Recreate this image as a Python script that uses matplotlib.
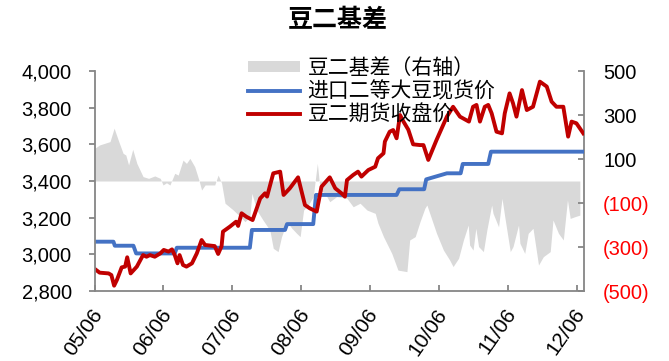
import matplotlib
matplotlib.use('Agg')
import matplotlib.pyplot as plt
from matplotlib.patches import Patch
from matplotlib.lines import Line2D
from matplotlib.transforms import ScaledTranslation

plt.rcParams['font.family'] = ['Liberation Sans', 'Noto Sans CJK SC']

# time as decimal years (June of each year = year + 5/12)
fut_t = [2005.42, 2005.49, 2005.62, 2005.66, 2005.70, 2005.74, 2005.81, 2005.86, 2005.89, 2005.94,
         2006.03, 2006.12, 2006.17, 2006.22, 2006.29, 2006.37, 2006.42, 2006.49, 2006.54, 2006.58,
         2006.62, 2006.65, 2006.70, 2006.75, 2006.83, 2006.90, 2006.97, 2007.02, 2007.16, 2007.21,
         2007.26, 2007.28, 2007.38, 2007.47, 2007.50, 2007.55, 2007.62, 2007.71, 2007.77, 2007.82,
         2007.89, 2007.92, 2008.01, 2008.11, 2008.16, 2008.25, 2008.37, 2008.47, 2008.54, 2008.64,
         2008.71, 2008.83, 2008.91, 2009.00, 2009.05, 2009.08, 2009.17, 2009.24, 2009.29, 2009.39,
         2009.49, 2009.53, 2009.61, 2009.63, 2009.70, 2009.75, 2009.80, 2009.85, 2009.90, 2009.97,
         2010.04, 2010.14, 2010.19, 2010.26, 2010.38, 2010.53, 2010.62, 2010.72, 2010.85, 2010.91,
         2010.96, 2011.01, 2011.08, 2011.13, 2011.18, 2011.25, 2011.33, 2011.37, 2011.44, 2011.49,
         2011.54, 2011.62, 2011.69, 2011.78, 2011.88, 2011.98, 2012.05, 2012.12, 2012.22, 2012.29,
         2012.34, 2012.41, 2012.51]
fut_price = [2920, 2900, 2896, 2887, 2829, 2860, 2929, 2933, 2984, 2896,
             2933, 2996, 2987, 2996, 2987, 3005, 3024, 3015, 3027, 2996,
             2951, 2996, 2942, 2933, 2951, 3005, 3078, 3051, 3045, 3002,
             3045, 3124, 3151, 3178, 3155, 3224, 3205, 3187, 3251, 3305,
             3333, 3315, 3442, 3451, 3324, 3360, 3420, 3269, 3251, 3233,
             3369, 3420, 3360, 3333, 3315, 3405, 3433, 3451, 3424, 3460,
             3478, 3524, 3551, 3615, 3669, 3678, 3633, 3760, 3724, 3680,
             3600, 3596, 3596, 3515, 3624, 3751, 3805, 3751, 3724, 3805,
             3815, 3724, 3805, 3815, 3769, 3669, 3660, 3769, 3878, 3824,
             3751, 3896, 3787, 3805, 3942, 3915, 3833, 3805, 3805, 3642,
             3724, 3715, 3660]

spot_t = [2005.42, 2005.69, 2005.71, 2005.98, 2006.02, 2006.58, 2006.61, 2007.67, 2007.70, 2008.18,
          2008.21, 2008.59, 2008.63, 2009.80, 2009.84, 2010.20, 2010.23, 2010.53, 2010.73, 2010.76,
          2011.13, 2011.17, 2012.51]
spot_price = [3069, 3069, 3047, 3047, 3005, 3005, 3036, 3036, 3133, 3133,
              3165, 3165, 3324, 3324, 3355, 3355, 3409, 3442, 3442, 3493,
              3493, 3560, 3560]

basis_t = [2005.42, 2005.49, 2005.64, 2005.70, 2005.76, 2005.83, 2005.87, 2005.91, 2005.97, 2006.03,
           2006.12, 2006.20, 2006.29, 2006.37, 2006.41, 2006.46, 2006.51, 2006.58, 2006.63, 2006.70,
           2006.75, 2006.80, 2006.87, 2006.93, 2006.97, 2007.02, 2007.16, 2007.21, 2007.26, 2007.31,
           2007.43, 2007.53, 2007.60, 2007.67, 2007.70, 2007.77, 2007.86, 2007.96, 2008.01, 2008.08,
           2008.13, 2008.21, 2008.28, 2008.35, 2008.40, 2008.45, 2008.52, 2008.59, 2008.65, 2008.69,
           2008.76, 2008.83, 2008.93, 2009.08, 2009.17, 2009.27, 2009.37, 2009.49, 2009.53, 2009.61,
           2009.73, 2009.82, 2009.95, 2009.99, 2010.07, 2010.14, 2010.21, 2010.24, 2010.38, 2010.48,
           2010.57, 2010.62, 2010.70, 2010.77, 2010.84, 2010.86, 2010.91, 2010.95, 2010.99, 2011.06,
           2011.11, 2011.18, 2011.20, 2011.28, 2011.33, 2011.37, 2011.45, 2011.49, 2011.57, 2011.59,
           2011.66, 2011.71, 2011.78, 2011.86, 2011.93, 2012.03, 2012.07, 2012.15, 2012.22, 2012.28,
           2012.32, 2012.39, 2012.46]
basis = [149, 164, 179, 240, 186, 126, 118, 73, 144, 80,
         20, 12, 23, 12, -18, -8, -18, 35, 27, 95,
         80, 103, 65, 5, -41, -18, -18, 27, -10, -101,
         -132, -162, -185, -162, -56, -132, -177, -223, -306, -321,
         -253, -185, -215, -238, -253, -132, -109, -71, 80, -41,
         -56, -94, -71, -79, -117, -101, -132, -147, -192, -253,
         -329, -405, -412, -268, -253, -185, -124, -109, -238, -314,
         -359, -389, -351, -268, -200, -291, -314, -215, -298, -321,
         -223, -109, -147, -208, -79, -162, -321, -298, -200, -283,
         -329, -238, -215, -382, -344, -321, -177, -238, -268, -86,
         -170, -162, -155]

x_ticks = [2005 + 5 / 12 + k for k in range(8)]
x_labels = ['05/06', '06/06', '07/06', '08/06', '09/06', '10/06', '11/06', '12/06']
left_ticks = [2800, 3000, 3200, 3400, 3600, 3800, 4000]
right_ticks = [-500, -300, -100, 100, 300, 500]

GREY = '#D9D9D9'
BLUE = '#4472C4'
RED = '#C00000'
SPINE = '#868686'
LW = 2.8

fig = plt.figure(figsize=(6.69, 3.61), dpi=100)
ax = fig.add_axes([0.1414, 0.1939, 0.7309, 0.6094])
ax2 = ax.twinx()

# basis on the right axis, behind the price lines
ax2.fill_between(basis_t, 0, basis, color=GREY, linewidth=0)
ax.set_zorder(ax2.get_zorder() + 1)
ax.patch.set_visible(False)

ax.plot(spot_t, spot_price, color=BLUE, linewidth=LW)
ax.plot(fut_t, fut_price, color=RED, linewidth=LW)

ax.set_xlim(2005 + 5 / 12, 2012.514)
ax.set_ylim(2800, 4000)
ax2.set_ylim(-500, 500)

ax.set_yticks(left_ticks)
ax.set_yticklabels([f'{v:,}' for v in left_ticks])
ax2.set_yticks(right_ticks)
ax2.set_yticklabels([f'({-v})' if v < 0 else str(v) for v in right_ticks])
for lab, v in zip(ax2.get_yticklabels(), right_ticks):
    lab.set_color('#FF0000' if v < 0 else 'black')

ax.set_xticks(x_ticks)
ax.set_xticklabels(x_labels)

for a in (ax, ax2):
    a.spines['top'].set_visible(False)
    for s in ('left', 'right', 'bottom'):
        a.spines[s].set_color(SPINE)
        a.spines[s].set_linewidth(1.3)
ax.spines['right'].set_visible(False)
ax2.spines['left'].set_visible(False)
ax2.spines['bottom'].set_visible(False)

ax.tick_params(axis='y', direction='out', length=4.5, width=1.3, color=SPINE,
               labelsize=14.5, pad=12)
ax.tick_params(axis='x', direction='in', length=4.5, width=1.3, color=SPINE,
               labelsize=15, pad=14)
ax2.tick_params(axis='y', direction='in', length=4, width=1.3, color=SPINE,
                labelsize=14.5, pad=14)

offset = ScaledTranslation(4 / 100, 0, fig.dpi_scale_trans)
for lab in ax.get_xticklabels():
    lab.set_rotation(55)
    lab.set_ha('right')
    lab.set_va('center')
    lab.set_rotation_mode('anchor')
    lab.set_transform(lab.get_transform() + offset)

handles = [Patch(facecolor=GREY, edgecolor='none'),
           Line2D([], [], color=BLUE, linewidth=LW),
           Line2D([], [], color=RED, linewidth=LW)]
labels = ['豆二基差（右轴）', '进口二等大豆现货价', '豆二期货收盘价']
fig.legend(handles, labels, loc='upper left', bbox_to_anchor=(0.3707, 0.84),
           frameon=False, fontsize=15, handlelength=2.5, handleheight=0.45,
           handletextpad=0.35, labelspacing=0.15, borderpad=0, borderaxespad=0)

fig.text(0.505, 0.944, '豆二基差', ha='center', va='center', fontsize=18,
         fontweight='bold', family=['Noto Sans CJK SC'])

fig.savefig('out.png', dpi=100)
